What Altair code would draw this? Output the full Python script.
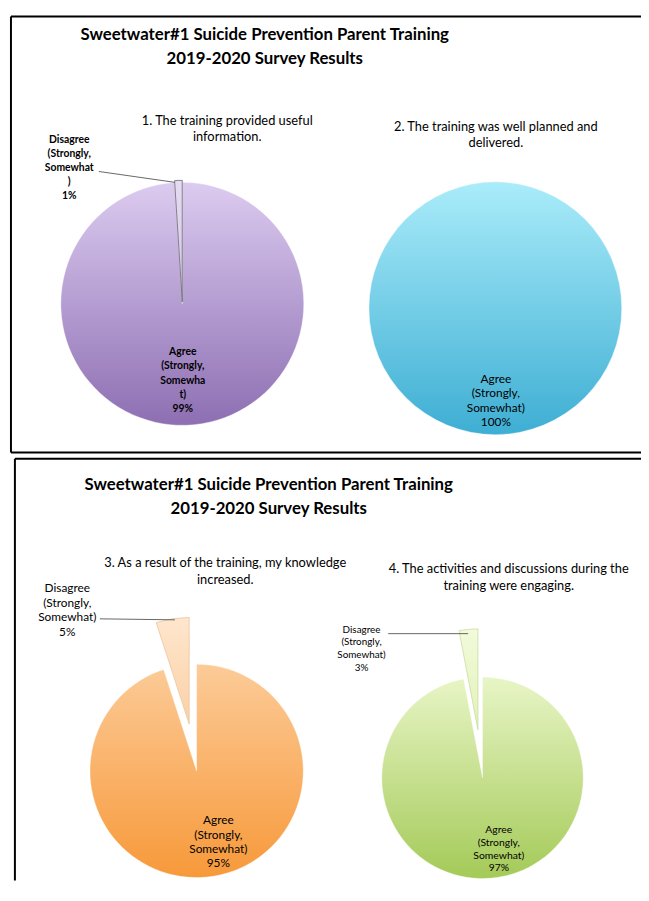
import math
import altair as alt
import pandas as pd

# ---------------- data ----------------
main_title = ["Sweetwater#1 Suicide Prevention Parent Training", "2019-2020 Survey Results"]
questions = [
    "1. The training provided useful\ninformation.",
    "2. The training was well planned and\ndelivered.",
    "3. As a result of the training, my knowledge\nincreased.",
    "4. The activities and discussions during the\ntraining were engaging.",
]
categories = ["Agree (Strongly, Somewhat)", "Disagree (Strongly, Somewhat)"]
agree_pct = [99, 100, 95, 97]
disagree_pct = [1, 0, 5, 3]
# how each data label wraps in the original (category text split over lines)
agree_wrap = [["Agree", "(Strongly,", "Somewha", "t)"],
              ["Agree", "(Strongly,", "Somewhat)"],
              ["Agree", "(Strongly,", "Somewhat)"],
              ["Agree", "(Strongly,", "Somewhat)"]]
disagree_wrap = [["Disagree", "(Strongly,", "Somewhat", ")"],
                 ["Disagree", "(Strongly,", "Somewhat)"],
                 ["Disagree", "(Strongly,", "Somewhat)"],
                 ["Disagree", "(Strongly,", "Somewhat)"]]

# ---------------- layout / style ----------------
OFF = 8
W, H = 641, 878
def P(v):
    return v - OFF

FONT = "Lato"
# label positions are (x centre, y of first line, font size, weight, line height)
pies = [
    dict(cx=184.5, cy=302, r=123, explode=2, title=(230, 117),
         agree_lab=(185, 351, 10.5, "bold", 14.5), dis_lab=(70, 136, 10.5, "bold", 14.3),
         leader=((100, 168), (177, 179)),
         agree_col=("#dccbf0", "#8d6fb2"), dis_col=("#e6dcf3", "#d2c3e8"), dis_stroke="#666666"),
    dict(cx=501.5, cy=306.5, r=128, explode=0, title=(502, 123),
         agree_lab=(502, 378, 12, "normal", 14.6), dis_lab=None, leader=None,
         agree_col=("#aaecfa", "#3eaed3"), dis_col=("#aaecfa", "#3eaed3"), dis_stroke="#666666"),
    dict(cx=199, cy=775, r=108, explode=48, title=(228, 565),
         agree_lab=(221, 825, 12, "normal", 14.5), dis_lab=(68, 590, 12, "normal", 14.8),
         leader=((101, 621), (177, 622)),
         agree_col=("#fccb98", "#f7993a"), dis_col=("#fee6cd", "#fcd0a5"), dis_stroke="#e9c6a0"),
    dict(cx=488.5, cy=782, r=102, explode=49, title=(515, 571),
         agree_lab=(505, 835, 10.5, "normal", 12.9), dis_lab=(366, 632, 10, "normal", 12.9),
         leader=((393, 636), (474, 636)),
         agree_col=("#e8f5c6", "#a4ca58"), dis_col=("#f2fadb", "#e2f2b8"), dis_stroke="#c8dca0"),
]
# box edges (they run off the right / bottom edge of the picture): left, top, bottom
box_lines = [
    ((11, 11), (11, 452.5)), ((11, 11), (W + OFF, 11)), ((11, 452.5), (W + OFF, 452.5)),
    ((15, 459), (15, H + OFF)), ((15, 459), (W + OFF, 459)),
]
title_pos = [(268, 30), (272, 486)]


def grad(c1, c2):
    return alt.Gradient(
        gradient="linear", x1=0, x2=0, y1=0, y2=1,
        stops=[alt.GradientStop(color=c1, offset=0), alt.GradientStop(color=c2, offset=1)],
    )


def text_layer(text, x, y, size, weight, lh):
    df = pd.DataFrame({"label": [text]})
    return alt.Chart(df).mark_text(
        align="center", baseline="middle", lineBreak="\n", font=FONT,
        fontSize=size, fontWeight=weight, lineHeight=lh, color="#000000",
    ).encode(text="label:N", x=alt.value(P(x)), y=alt.value(P(y)))


def rule_layer(p1, p2, color, width):
    (x1, y1), (x2, y2) = p1, p2
    return alt.Chart(alt.Data(values=[{}])).mark_rule(color=color, strokeWidth=width).encode(
        x=alt.value(P(x1)), x2=alt.value(P(x2)), y=alt.value(P(y1)), y2=alt.value(P(y2)))


layers = []

# boxes
for a, b in box_lines:
    layers.append(rule_layer(a, b, "#000000", 2))

# main titles
for tx, ty in title_pos:
    layers.append(text_layer("\n".join(main_title), tx, ty, 17, "bold", 24))

# pies
for i, p in enumerate(pies):
    total = agree_pct[i] + disagree_pct[i]
    a_end = 2 * math.pi * agree_pct[i] / total
    slices = pd.DataFrame({
        "category": categories,
        "pct": [agree_pct[i], disagree_pct[i]],
        "start": [0.0, a_end],
        "end": [a_end, 2 * math.pi],
    })
    # agree slice
    layers.append(
        alt.Chart(slices[slices["category"] == categories[0]]).mark_arc(
            radius=p["r"], fill=grad(*p["agree_col"]), stroke="#ffffff", strokeWidth=0.6, strokeOpacity=0.6,
        ).encode(theta=alt.Theta("start:Q", scale=None), theta2="end:Q",
                 x=alt.value(P(p["cx"])), y=alt.value(P(p["cy"])))
    )
    if disagree_pct[i] > 0:
        mid = (a_end + 2 * math.pi) / 2
        dx = p["explode"] * math.sin(mid)
        dy = -p["explode"] * math.cos(mid)
        layers.append(
            alt.Chart(slices[slices["category"] == categories[1]]).mark_arc(
                radius=p["r"], fill=grad(*p["dis_col"]), stroke=p["dis_stroke"], strokeWidth=0.8,
            ).encode(theta=alt.Theta("start:Q", scale=None), theta2="end:Q",
                     x=alt.value(P(p["cx"] + dx)), y=alt.value(P(p["cy"] + dy)))
        )
    # question title
    layers.append(text_layer(questions[i], p["title"][0], p["title"][1], 13, "normal", 16.5))
    # data labels
    ax, ay, fs, fw, lh = p["agree_lab"]
    layers.append(text_layer("\n".join(agree_wrap[i] + [f"{agree_pct[i]}%"]), ax, ay, fs, fw, lh))
    if p["dis_lab"] is not None and disagree_pct[i] > 0:
        dxl, dyl, fs, fw, lh = p["dis_lab"]
        layers.append(text_layer("\n".join(disagree_wrap[i] + [f"{disagree_pct[i]}%"]), dxl, dyl, fs, fw, lh))
        layers.append(rule_layer(p["leader"][0], p["leader"][1], "#555555", 0.9))

chart = alt.layer(*layers).properties(
    width=W, height=H, padding=0, autosize="none", background="#ffffff"
).configure_view(stroke=None)

chart.save("out.html", embed_options={"renderer": "svg", "actions": False})
